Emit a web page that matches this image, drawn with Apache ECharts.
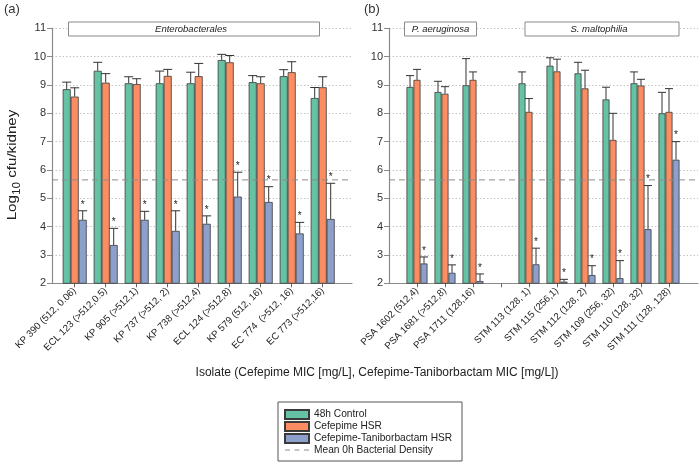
<!DOCTYPE html>
<html><head><meta charset="utf-8">
<script src="https://cdn.jsdelivr.net/npm/echarts@6/dist/echarts.min.js"></script>
<style>html,body{margin:0;padding:0;background:#fff}#c{width:700px;height:464px}</style>
</head><body><div id="c"></div>
<script>
// ---- data ----
const categoriesA = ['KP 390 (512, 0.06)', 'ECL 123 (>512,0.5)', 'KP 905 (>512,1)', 'KP 737 (>512, 2)', 'KP 738 (>512,4)', 'ECL 124 (>512,8)', 'KP 579 (512, 16)', 'EC 774  (>512, 16)', 'EC 773 (>512,16)'];
const categoriesB = ['PSA 1602 (512,4)', 'PSA 1681 (>512,8)', 'PSA 1711 (128,16)', '', 'STM 113 (128, 1)', 'STM 115 (256,1)', 'STM 112 (128, 2)', 'STM 109 (256, 32)', 'STM 110 (128, 32)', 'STM 111 (128, 128)'];
const seriesNames = ['48h Control', 'Cefepime HSR', 'Cefepime-Taniborbactam HSR'];
const meanName = 'Mean 0h Bacterial Density';

const controlA = [8.85, 9.5, 9.06, 9.06, 9.06, 9.88, 9.1, 9.31, 8.54];
const controlAUpper = [9.1, 9.8, 9.29, 9.49, 9.45, 10.08, 9.33, 9.54, 8.91];
const cefepimeA = [8.59, 9.08, 9.03, 9.32, 9.31, 9.8, 9.06, 9.45, 8.92];
const cefepimeAUpper = [8.9, 9.4, 9.22, 9.55, 9.76, 10.04, 9.29, 9.82, 9.29];
const taniA = [4.24, 3.35, 4.24, 3.85, 4.1, 5.06, 4.87, 3.76, 4.27];
const taniAUpper = [4.56, 3.94, 4.54, 4.56, 4.38, 5.92, 5.41, 4.15, 5.53];

const controlB = [8.93, 8.75, 8.99, null, 9.06, 9.68, 9.41, 8.49, 9.06, 8.0];
const controlBUpper = [9.33, 9.13, 9.93, null, 9.46, 9.96, 9.8, 8.92, 9.46, 8.74];
const cefepimeB = [9.18, 8.69, 9.18, null, 8.05, 9.48, 8.88, 7.06, 8.98, 8.05];
const cefepimeBUpper = [9.55, 8.94, 9.46, null, 8.52, 9.91, 9.52, 8.0, 9.2, 8.87];
const taniB = [2.7, 2.37, 2.08, null, 2.67, 2.06, 2.29, 2.18, 3.91, 6.36];
const taniBUpper = [2.93, 2.65, 2.33, null, 3.24, 2.14, 2.62, 2.8, 5.45, 7.0];

const meanDensity = 5.65;
const yTicks = [2, 11, 1]; // min, max, interval

// ---- styles ----
const colors = ['#66c2a5', '#fc8d62', '#8da0cb'];
const FONT = 'Liberation Sans';

const chart = echarts.init(document.getElementById('c'), null, {renderer: 'canvas'});

function yAxisVisible(gridIndex) {
  return {
    type: 'value', gridIndex, min: yTicks[0], max: yTicks[1], interval: yTicks[2],
    axisLine: {show: true, lineStyle: {color: '#8a8a8a', width: 1.2}},
    axisTick: {show: true, length: 5, lineStyle: {color: '#8a8a8a'}},
    axisLabel: {color: '#333', fontSize: 11, fontFamily: FONT, margin: 6},
    splitLine: {show: true, lineStyle: {color: '#c4c4c4', type: [1.5, 2], width: 1}}
  };
}
function yAxisHidden(gridIndex) {
  return {type: 'value', gridIndex, min: yTicks[0], max: yTicks[1], interval: yTicks[2], show: false, splitLine: {show: false}};
}
function xAxisFrame(gridIndex) {
  return {
    type: 'value', gridIndex, min: 0, max: 1, position: 'bottom',
    axisLine: {show: true, onZero: false, lineStyle: {color: '#8a8a8a', width: 1.2}},
    axisTick: {show: false}, axisLabel: {show: false}, splitLine: {show: false}
  };
}
function xAxisCats(gridIndex, cats) {
  return {
    type: 'category', gridIndex, data: cats, position: 'bottom',
    axisLine: {show: false},
    axisTick: {show: true, alignWithLabel: true, length: 4, lineStyle: {color: '#666'}, interval: 0},
    axisLabel: {rotate: 45, interval: 0, fontSize: 9.7, color: '#222', fontFamily: FONT, margin: 6},
    splitLine: {show: false}
  };
}

function barSeries(name, idx, data, xi, yi, bw) {
  return {
    type: 'bar', name, data, xAxisIndex: xi, yAxisIndex: yi,
    barWidth: bw, barGap: '0%',
    itemStyle: {color: colors[idx], borderColor: '#3a3a3a', borderWidth: 0.8},
    z: 2, silent: true
  };
}

function errSeries(values, uppers, offsetIdx, bw, xi, yi) {
  const data = [];
  values.forEach((v, i) => { if (v != null) data.push([i, v, uppers[i]]); });
  return {
    type: 'custom', xAxisIndex: xi, yAxisIndex: yi, data, z: 5, silent: true,
    renderItem: function (params, api) {
      const ci = api.value(0), v = api.value(1), u = api.value(2);
      const p0 = api.coord([ci, v]);
      const p1 = api.coord([ci, u]);
      const x = p0[0] + offsetIdx * bw;
      const children = [
        {type: 'line', shape: {x1: x, y1: p0[1], x2: x, y2: p1[1]}, style: {stroke: '#333', lineWidth: 1}},
        {type: 'line', shape: {x1: x - bw / 2 - 0.5, y1: p1[1], x2: x + bw / 2 + 0.5, y2: p1[1]}, style: {stroke: '#333', lineWidth: 1}}
      ];
      if (offsetIdx === 1) {
        children.push({type: 'text', style: {text: '*', x: x, y: p1[1] - 1, textAlign: 'center', textVerticalAlign: 'bottom', fontSize: 10, fontFamily: FONT, fill: '#222'}});
      }
      return {type: 'group', children};
    }
  };
}

function meanSeries(xi, yi) {
  return {
    type: 'line', name: meanName, xAxisIndex: xi, yAxisIndex: yi,
    data: [[0, meanDensity], [1, meanDensity]], symbol: 'none', silent: true,
    lineStyle: {color: '#8c8c8c', type: [6, 4], width: 1}, itemStyle: {color: '#8c8c8c'}, z: 3
  };
}

// y-axis title pieces (Log, subscript 10, rest)
const mctx = document.createElement('canvas').getContext('2d');
function tw(t, size) { mctx.font = size + 'px "' + FONT + '"'; return mctx.measureText(t).width; }
const yt1 = 'Log', yt2 = '10', yt3 = ' cfu/kidney';
const ySize = 13.5, ySub = 10.5;
const w1 = tw(yt1, ySize), w2 = tw(yt2, ySub), w3 = tw(yt3, ySize);
const wTot = w1 + w2 + w3;
const x0 = -wTot / 2;

const TOP = 28.3, H = 255;
const bwA = 8, bwB = 7;
const dashIcon = 'path://M0,0L24,0L24,0.01L0,0.01Z M0,4h5v1.1h-5z M9.5,4h5v1.1h-5z M19,4h5v1.1h-5z M0,8.99L24,8.99L24,9L0,9Z';

const option = {
  animation: false,
  textStyle: {fontFamily: FONT},
  grid: [
    {left: 52, top: TOP, width: 300, height: H},      // left frame
    {left: 59.2, top: TOP, width: 279, height: H},    // left bars
    {left: 389, top: TOP, width: 309, height: H},     // right frame
    {left: 403, top: TOP, width: 280, height: H}      // right bars
  ],
  xAxis: [xAxisFrame(0), xAxisCats(1, categoriesA), xAxisFrame(2), xAxisCats(3, categoriesB)],
  yAxis: [yAxisVisible(0), yAxisHidden(1), yAxisVisible(2), yAxisHidden(3)],
  legend: {
    orient: 'vertical', left: 284, top: 409, itemWidth: 24, itemHeight: 9, itemGap: 1,
    padding: 0,
    textStyle: {fontSize: 10.2, color: '#222', fontFamily: FONT},
    selectedMode: false,
    data: [
      {name: seriesNames[0], icon: 'rect'},
      {name: seriesNames[1], icon: 'rect'},
      {name: seriesNames[2], icon: 'rect'},
      {name: meanName, icon: dashIcon, itemStyle: {color: '#8c8c8c', borderWidth: 0}}
    ]
  },
  series: [
    meanSeries(0, 0),
    meanSeries(2, 2),
    barSeries(seriesNames[0], 0, controlA, 1, 1, bwA),
    barSeries(seriesNames[1], 1, cefepimeA, 1, 1, bwA),
    barSeries(seriesNames[2], 2, taniA, 1, 1, bwA),
    barSeries(seriesNames[0], 0, controlB.map(v => v == null ? '-' : v), 3, 3, bwB),
    barSeries(seriesNames[1], 1, cefepimeB.map(v => v == null ? '-' : v), 3, 3, bwB),
    barSeries(seriesNames[2], 2, taniB.map(v => v == null ? '-' : v), 3, 3, bwB),
    errSeries(controlA, controlAUpper, -1, bwA, 1, 1),
    errSeries(cefepimeA, cefepimeAUpper, 0, bwA, 1, 1),
    errSeries(taniA, taniAUpper, 1, bwA, 1, 1),
    errSeries(controlB, controlBUpper, -1, bwB, 3, 3),
    errSeries(cefepimeB, cefepimeBUpper, 0, bwB, 3, 3),
    errSeries(taniB, taniBUpper, 1, bwB, 3, 3)
  ],
  graphic: [
    {type: 'text', left: 4, top: 3, style: {text: '(a)', fontSize: 13, fill: '#333', fontFamily: FONT}},
    {type: 'text', left: 364, top: 3, style: {text: '(b)', fontSize: 13, fill: '#333', fontFamily: FONT}},
    // strip labels
    {type: 'rect', shape: {x: 68.5, y: 22, width: 251, height: 14}, style: {fill: '#fff', stroke: '#8a8a8a', lineWidth: 1}, z: 10},
    {type: 'text', x: 191, y: 29.5, style: {text: 'Enterobacterales', fontSize: 9.5, fontStyle: 'italic', fill: '#222', textAlign: 'center', textVerticalAlign: 'middle', fontFamily: FONT}, z: 11},
    {type: 'rect', shape: {x: 404.5, y: 22, width: 72, height: 14}, style: {fill: '#fff', stroke: '#8a8a8a', lineWidth: 1}, z: 10},
    {type: 'text', x: 440.5, y: 29.5, style: {text: 'P. aeruginosa', fontSize: 9.5, fontStyle: 'italic', fill: '#222', textAlign: 'center', textVerticalAlign: 'middle', fontFamily: FONT}, z: 11},
    {type: 'rect', shape: {x: 525, y: 22, width: 154, height: 14}, style: {fill: '#fff', stroke: '#8a8a8a', lineWidth: 1}, z: 10},
    {type: 'text', x: 599, y: 29.5, style: {text: 'S. maltophilia', fontSize: 9.5, fontStyle: 'italic', fill: '#222', textAlign: 'center', textVerticalAlign: 'middle', fontFamily: FONT}, z: 11},
    // y axis title (rotated group)
    {type: 'group', x: 12.5, y: 165, rotation: Math.PI / 2, scaleX: 1.12, scaleY: 1, children: [
      {type: 'text', x: x0, y: 0, style: {text: yt1, fontSize: ySize, fill: '#222', fontFamily: FONT, textAlign: 'left', textVerticalAlign: 'middle'}},
      {type: 'text', x: x0 + w1, y: 4.5, style: {text: yt2, fontSize: ySub, fill: '#222', fontFamily: FONT, textAlign: 'left', textVerticalAlign: 'middle'}},
      {type: 'text', x: x0 + w1 + w2, y: 0, style: {text: yt3, fontSize: ySize, fill: '#222', fontFamily: FONT, textAlign: 'left', textVerticalAlign: 'middle'}}
    ]},
    // x axis title
    {type: 'text', x: 377, y: 373, style: {text: 'Isolate (Cefepime MIC [mg/L], Cefepime-Taniborbactam MIC [mg/L])', fontSize: 12, fill: '#222', textAlign: 'center', textVerticalAlign: 'middle', fontFamily: FONT}},
    // legend frame
    {type: 'rect', shape: {x: 278, y: 402, width: 184, height: 59}, style: {fill: '#fff', stroke: '#555', lineWidth: 1}, z: -1}
  ]
};
chart.setOption(option);
</script>
</body></html>
